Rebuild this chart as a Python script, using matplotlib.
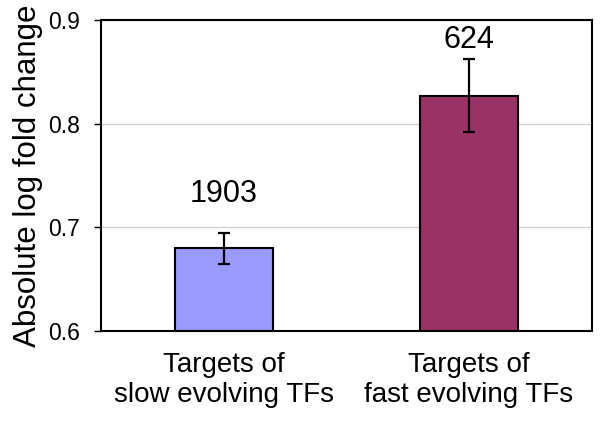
import matplotlib.pyplot as plt

plt.rcParams['font.family'] = ['Liberation Sans', 'DejaVu Sans']

categories = ["Targets of\nslow evolving TFs", "Targets of\nfast evolving TFs"]
values = [0.680, 0.827]
errors = [0.015, 0.035]
counts = ["1903", "624"]
colors = ["#9999ff", "#993366"]

fig = plt.figure(figsize=(6.13, 4.26), dpi=100)
ax = fig.add_axes([0.165, 0.223, 0.800, 0.730])

x = range(len(categories))
ax.bar(x, [v - 0.6 for v in values], bottom=0.6, width=0.4, color=colors,
       edgecolor='black', linewidth=1.5, zorder=3)
ax.errorbar(x, values, yerr=errors, fmt='none', ecolor='black',
            elinewidth=1.6, capsize=4.3, capthick=1.6, zorder=4)

# count labels sit at fixed heights above the bars
label_y = [0.7244, 0.8729]
for xi, ly, c in zip(x, label_y, counts):
    ax.text(xi, ly, c, ha='center', va='baseline', fontsize=22)

ax.set_xlim(-0.5, 1.5)
ax.set_ylim(0.6, 0.9)
ax.set_yticks([0.6, 0.7, 0.8, 0.9])
ax.set_yticklabels(["0.6", "0.7", "0.8", "0.9"])
ax.yaxis.grid(True, color='#d0d0d0', linewidth=1, zorder=0)
ax.set_axisbelow(True)
ax.set_xticks(list(x))
ax.set_xticklabels(categories, fontsize=20, linespacing=1.2)
ax.tick_params(axis='x', length=0, pad=15)
ax.tick_params(axis='y', labelsize=16.5, length=5, width=1, direction='out', pad=10)
ax.set_ylabel("Absolute log fold change", fontsize=22.5, labelpad=4)
for s in ax.spines.values():
    s.set_linewidth(1.5)

fig.savefig("out.png", dpi=100)
